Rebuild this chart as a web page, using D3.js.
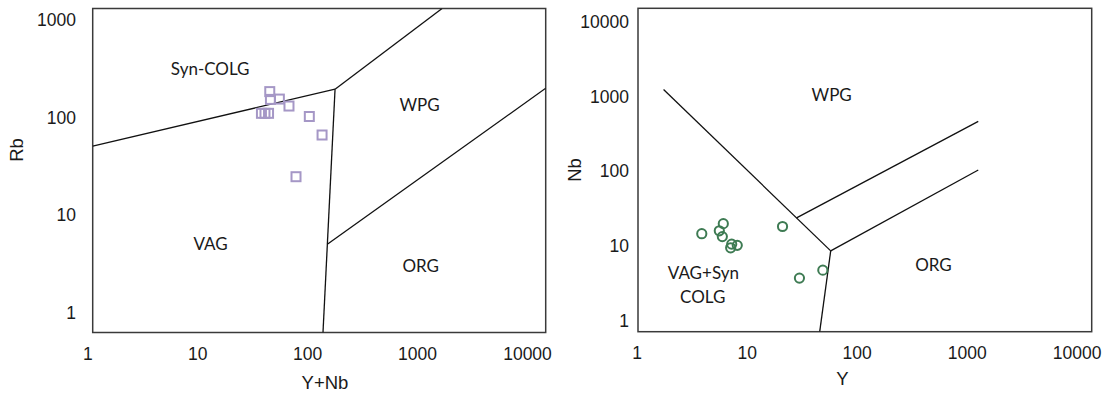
<!DOCTYPE html>
<html>
<head>
<meta charset="utf-8">
<script src="https://cdn.jsdelivr.net/npm/d3@7"></script>
<style>
  body { margin: 0; background: #fff; }
  svg { display: block; }
  .tick text { font-family: "Liberation Sans", Arial, sans-serif; font-size: 17.5px; fill: #1a1a1a; }
  .field { font-family: Lato, "Open Sans", sans-serif; font-size: 17px; fill: #1a1a1a; }
  .title { font-family: "Liberation Sans", Arial, sans-serif; font-size: 18.5px; fill: #1a1a1a; }
</style>
</head>
<body>
<svg id="chart" width="1108" height="393"></svg>
<script>
// ---- Rb vs (Y+Nb) samples ----
const yNbValues = [36.6, 37.1, 44.5, 54.1, 30.9, 33.2, 35.7, 81.8, 106, 62.4];
const rbValues  = [170, 144, 145, 125, 107, 107, 107, 100, 67.4, 27.7];

// ---- Nb vs Y samples ----
const yValues  = [3.65, 5.65, 5.21, 5.54, 6.70, 6.56, 7.5, 18.8, 26.5, 42.6];
const nbValues = [16.3, 21.7, 17.7, 15.0, 12.1, 10.9, 11.7, 20.0, 4.6, 5.77];

// ---- tick labels ----
const xTicks  = [1, 10, 100, 1000, 10000];
const rbTicks = [1, 10, 100, 1000];
const nbTicks = [1, 10, 100, 1000, 10000];

// ---- discrimination field boundaries (data units) ----
const rbBoundaries = [
  [[1, 53.3], [138, 179]],       // syn-COLG / VAG
  [[138, 179], [1216, 1000]],    // syn-COLG / WPG
  [[138, 179], [108, 1]],        // VAG / WPG + ORG
  [[118, 6.56], [10000, 182.5]]  // WPG / ORG
];
const nbBoundaries = [
  [[1.68, 990], [50, 10]],       // VAG+syn-COLG / WPG
  [[25, 25.6], [1000, 400]],     // WPG / ORG (upper)
  [[50, 10], [1000, 100]],       // WPG / ORG (lower)
  [[50, 10], [40, 1]]            // VAG+syn-COLG / ORG
];

// ---- field names ----
const rbFields = [
  { name: "Syn-COLG", x: 10.9, y: 279 },
  { name: "WPG", x: 770, y: 130 },
  { name: "VAG", x: 11, y: 6.7 },
  { name: "ORG", x: 787, y: 4.2 }
];
const nbFields = [
  { name: "WPG", x: 51, y: 853 },
  { name: "ORG", x: 403, y: 6.8 },
  { name: "VAG+Syn", x: 3.77, y: 5.37 },
  { name: "COLG", x: 3.72, y: 2.71 }
];

const svg = d3.select("#chart");
const fmt = d3.format("d");

function panel(cfg) {
  const g = svg.append("g");
  const x = d3.scaleLog().domain(cfg.xDomain).range(cfg.xRange);
  const y = d3.scaleLog().domain(cfg.yDomain).range(cfg.yRange);
  // label positions of the printed scale
  const xl = d3.scaleLog().domain([1, 10000]).range(cfg.xLabelRange);
  const yl = d3.scaleLog().domain(cfg.yDomain).range(cfg.yLabelRange);

  const clipId = cfg.id + "-clip";
  g.append("clipPath").attr("id", clipId)
    .append("rect")
    .attr("x", x.range()[0]).attr("y", y.range()[1])
    .attr("width", x.range()[1] - x.range()[0])
    .attr("height", y.range()[0] - y.range()[1]);

  // plot frame
  g.append("rect")
    .attr("x", x.range()[0]).attr("y", y.range()[1])
    .attr("width", x.range()[1] - x.range()[0])
    .attr("height", y.range()[0] - y.range()[1])
    .attr("fill", "none").attr("stroke", "#3a3a3a").attr("stroke-width", 1.5);

  // boundaries
  const line = d3.line().x(d => x(d[0])).y(d => y(d[1]));
  g.append("g").attr("clip-path", `url(#${clipId})`)
    .selectAll("path").data(cfg.boundaries).join("path")
    .attr("d", line)
    .attr("fill", "none").attr("stroke", "#111").attr("stroke-width", 1.3);

  // field names
  g.append("g").selectAll("text").data(cfg.fields).join("text")
    .attr("class", "field")
    .attr("x", d => x(d.x)).attr("y", d => y(d.y))
    .attr("text-anchor", "middle").attr("dominant-baseline", "central")
    .text(d => d.name);

  // samples
  const pts = cfg.xs.map((v, i) => [v, cfg.ys[i]]);
  if (cfg.symbol === "square") {
    const s = 9;
    g.append("g").selectAll("rect").data(pts).join("rect")
      .attr("x", d => x(d[0]) - s / 2).attr("y", d => y(d[1]) - s / 2)
      .attr("width", s).attr("height", s)
      .attr("fill", "none").attr("stroke", cfg.color).attr("stroke-width", 2);
  } else {
    g.append("g").selectAll("circle").data(pts).join("circle")
      .attr("cx", d => x(d[0])).attr("cy", d => y(d[1])).attr("r", 4.6)
      .attr("fill", "none").attr("stroke", cfg.color).attr("stroke-width", 2);
  }

  // axes
  g.append("g").attr("transform", `translate(0,${cfg.xAxisY})`)
    .call(d3.axisBottom(xl).tickValues(xTicks).tickFormat(fmt).tickSize(0).tickPadding(0))
    .call(a => a.select(".domain").remove());
  g.append("g").attr("transform", `translate(${cfg.yAxisX},0)`)
    .call(d3.axisLeft(yl).tickValues(cfg.yTicks).tickFormat(fmt).tickSize(0).tickPadding(0))
    .call(a => a.select(".domain").remove());
  svg.selectAll(".tick text").attr("font-family", null).attr("font-size", null).attr("fill", null);

  // titles
  g.append("text").attr("class", "title")
    .attr("x", cfg.xTitle[0]).attr("y", cfg.xTitle[1])
    .attr("text-anchor", "middle").attr("dominant-baseline", "central")
    .text(cfg.xName);
  g.append("text").attr("class", "title")
    .attr("transform", `translate(${cfg.yTitle[0]},${cfg.yTitle[1]}) rotate(-90)`)
    .attr("text-anchor", "middle").attr("dominant-baseline", "central")
    .text(cfg.yName);
}

panel({
  id: "rb",
  xDomain: [1, 10000], xRange: [92.7, 545.7],
  yDomain: [1, 1000], yRange: [332.5, 8.5],
  xLabelRange: [87.3, 527], yLabelRange: [313, 19.7],
  xAxisY: 347.3, yAxisX: 76,
  yTicks: rbTicks,
  boundaries: rbBoundaries, fields: rbFields,
  xs: yNbValues, ys: rbValues, symbol: "square", color: "#a597c6",
  xName: "Y+Nb", yName: "Rb", xTitle: [325, 382], yTitle: [16, 150]
});

panel({
  id: "nb",
  xDomain: [1, 10000], xRange: [638, 1091.7],
  yDomain: [1, 10000], yRange: [331.7, 8.3],
  xLabelRange: [636.7, 1076.7], yLabelRange: [320.7, 22],
  xAxisY: 346.5, yAxisX: 629,
  yTicks: nbTicks,
  boundaries: nbBoundaries, fields: nbFields,
  xs: yValues, ys: nbValues, symbol: "circle", color: "#3e7b53",
  xName: "Y", yName: "Nb", xTitle: [842.5, 378], yTitle: [574.7, 170]
});
</script>
</body>
</html>
